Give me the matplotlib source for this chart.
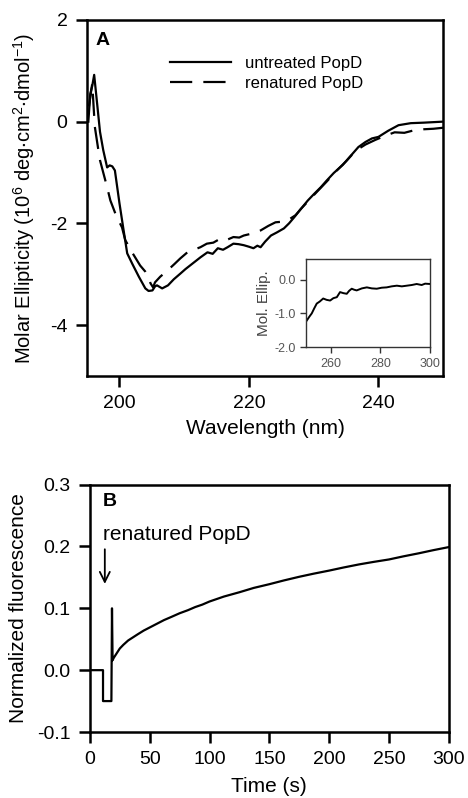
import matplotlib
matplotlib.use('Agg')
import numpy as np
import matplotlib.pyplot as plt

matplotlib.rcParams.update({'font.family': 'Liberation Sans', 'mathtext.default': 'regular',
                            'axes.unicode_minus': False,
                            'axes.linewidth': 1.8, 'xtick.major.width': 1.8, 'ytick.major.width': 1.8,
                            'xtick.major.size': 8, 'ytick.major.size': 8,
                            'xtick.major.pad': 6, 'ytick.major.pad': 6,
                            'xtick.direction': 'out', 'ytick.direction': 'out'})

# panel A: CD spectra
wl_untreated = [195.2, 195.5, 195.8, 196.1, 196.6, 197.0, 197.5, 198.1, 198.5, 198.9, 199.3, 200.0,
                200.6, 201.2, 202.0, 203.0, 204.0, 204.5, 205.1, 205.5, 205.8, 206.6, 207.5, 208.4,
                209.4, 210.2, 210.9, 211.7, 212.5, 213.6, 214.4, 215.2, 216.0, 216.7, 217.6, 218.4,
                219.2, 220.0, 220.7, 221.3, 221.8, 222.5, 223.4, 224.3, 225.4, 226.2, 227.0, 228.0,
                229.1, 230.0, 231.1, 232.0, 233.1, 234.5, 235.8, 236.9, 238.0, 239.0, 240.0, 241.5,
                243.1, 245.0, 247.0, 250.0]
cd_untreated = [0.0, 0.55, 0.7, 0.92, 0.3, -0.2, -0.56, -0.9, -0.86, -0.88, -0.96, -1.6,
                -2.1, -2.59, -2.8, -3.05, -3.28, -3.33, -3.32, -3.24, -3.22, -3.28, -3.22, -3.1,
                -2.99, -2.9, -2.83, -2.75, -2.67, -2.57, -2.6, -2.49, -2.52, -2.47, -2.4, -2.41,
                -2.43, -2.46, -2.49, -2.44, -2.47, -2.36, -2.24, -2.18, -2.1, -2.0, -1.88, -1.72,
                -1.55, -1.43, -1.29, -1.16, -1.01, -0.85, -0.66, -0.5, -0.4, -0.33, -0.3, -0.18,
                -0.07, -0.03, -0.02, 0.0]

wl_renatured = [195.3, 195.8, 196.2, 196.7, 197.0, 198.1, 198.6, 199.5, 200.4, 200.9, 202.0, 203.2,
                204.0, 204.5, 204.8, 205.2, 205.5, 206.3, 207.4, 208.5, 209.4, 210.5, 211.5, 212.5,
                213.5, 214.5, 215.6, 216.5, 217.6, 218.5, 219.2, 220.5, 221.8, 223.0, 224.1, 225.0,
                226.0, 227.2, 228.0, 229.1, 230.5, 232.0, 233.5, 235.0, 236.5, 238.0, 239.5, 241.0,
                242.5, 244.0, 245.5, 247.0, 248.5, 250.0]
cd_renatured = [0.3, 0.75, -0.1, -0.52, -0.76, -1.29, -1.55, -1.85, -2.08, -2.33, -2.58, -2.83,
                -2.95, -3.05, -3.18, -3.26, -3.16, -3.05, -2.93, -2.8, -2.69, -2.57, -2.52, -2.47,
                -2.4, -2.38, -2.3, -2.33, -2.27, -2.28, -2.24, -2.2, -2.14, -2.05, -1.98, -1.97,
                -1.94, -1.84, -1.72, -1.57, -1.38, -1.18, -0.97, -0.78, -0.57, -0.45, -0.36, -0.28,
                -0.21, -0.22, -0.17, -0.15, -0.14, -0.12]

# inset: 250-300 nm
wl_inset = [250.3, 251.3, 252.3, 253.3, 254.3, 255.5, 256.9, 258.3, 259.7, 261.0, 262.4, 263.7,
            265.0, 266.4, 267.4, 268.4, 269.4, 270.4, 272.5, 274.5, 276.5, 278.5, 280.5, 282.5,
            284.5, 286.6, 288.6, 290.6, 292.6, 294.6, 296.6, 298.0, 300.0]
cd_inset = [-1.21, -1.1, -1.0, -0.85, -0.71, -0.65, -0.56, -0.6, -0.62, -0.55, -0.52, -0.37,
            -0.4, -0.42, -0.33, -0.27, -0.3, -0.32, -0.26, -0.23, -0.26, -0.27, -0.24, -0.23,
            -0.2, -0.18, -0.2, -0.18, -0.16, -0.13, -0.16, -0.12, -0.13]

# panel B: fluorescence kinetics
time_s = [0, 11, 11, 18, 18.5, 19, 20, 22, 25, 28, 32, 36, 40, 45, 50, 56, 62, 68, 75, 82, 88,
          94, 100, 112, 125, 137, 150, 162, 175, 187, 200, 212, 225, 237, 250, 262, 275, 287, 300]
fluor = [0.0, 0.0, -0.05, -0.05, 0.1, 0.016, 0.02, 0.026, 0.035, 0.041, 0.048, 0.053, 0.058,
         0.064, 0.069, 0.075, 0.081, 0.086, 0.092, 0.097, 0.102, 0.106, 0.111, 0.119, 0.126,
         0.133, 0.139, 0.145, 0.151, 0.156, 0.161, 0.166, 0.171, 0.175, 0.179, 0.184, 0.189,
         0.194, 0.199]

fig = plt.figure(figsize=(4.68, 7.98), dpi=100)

axA = fig.add_axes([0.186, 0.529, 0.761, 0.446])
axA.plot(wl_untreated, cd_untreated, '-', color='k', linewidth=1.6, label='untreated PopD')
axA.plot(wl_renatured, cd_renatured, color='k', linewidth=1.6, dashes=(10, 5), label='renatured PopD')
axA.set_xlim(195, 250)
axA.set_ylim(-5, 2)
axA.set_xticks([200, 220, 240])
axA.set_yticks([-4, -2, 0, 2])
axA.tick_params(labelsize=14)
axA.set_xlabel('Wavelength (nm)', fontsize=15, labelpad=5)
axA.set_ylabel(r'Molar Ellipticity (10$^6$ deg$\cdot$cm$^2$$\cdot$dmol$^{-1}$)', fontsize=14.5)
axA.yaxis.set_label_coords(-0.14, 0.5)
axA.text(0.025, 0.965, 'A', transform=axA.transAxes, fontsize=14, fontweight='bold', va='top')
leg = axA.legend(loc='upper left', bbox_to_anchor=(0.232, 0.9), frameon=False, fontsize=12,
                 handlelength=3.7, handletextpad=0.8, labelspacing=0.3, borderpad=0, borderaxespad=0)

axI = fig.add_axes([0.654, 0.565, 0.265, 0.110])
axI.plot(wl_inset, cd_inset, '-', color='k', linewidth=1.4)
axI.set_xlim(250, 300)
axI.set_ylim(-2.0, 0.6)
axI.set_xticks([260, 280, 300])
axI.set_yticks([-2.0, -1.0, 0.0])
axI.set_yticklabels(['-2.0', '-1.0', '0.0'])
for s in axI.spines.values():
    s.set_linewidth(1.0)
    s.set_color('#333333')
axI.tick_params(labelsize=9, width=1.0, length=4, pad=3.5, colors='#333333', labelcolor='#555555')
axI.set_ylabel('Mol. Ellip.', fontsize=11, color='#444444')
axI.yaxis.set_label_coords(-0.28, 0.5)

axB = fig.add_axes([0.192, 0.0827, 0.767, 0.310])
axB.plot(time_s, fluor, '-', color='k', linewidth=1.6)
axB.set_xlim(0, 300)
axB.set_ylim(-0.1, 0.3)
axB.set_xticks(np.arange(0, 301, 50))
axB.set_yticks([-0.1, 0.0, 0.1, 0.2, 0.3])
axB.set_yticklabels(['-0.1', '0.0', '0.1', '0.2', '0.3'])
axB.tick_params(labelsize=14)
axB.set_xlabel('Time (s)', fontsize=15, labelpad=6)
axB.set_ylabel('Normalized fluorescence', fontsize=15)
axB.yaxis.set_label_coords(-0.172, 0.5)
axB.text(0.035, 0.965, 'B', transform=axB.transAxes, fontsize=14, fontweight='bold', va='top')
axB.text(11, 0.219, 'renatured PopD', fontsize=15, ha='left', va='center')
axB.annotate('', xy=(12.5, 0.135), xytext=(12.5, 0.2),
             arrowprops=dict(arrowstyle='->', color='k', lw=1.3, mutation_scale=18))

plt.savefig('out.png', dpi=100)
